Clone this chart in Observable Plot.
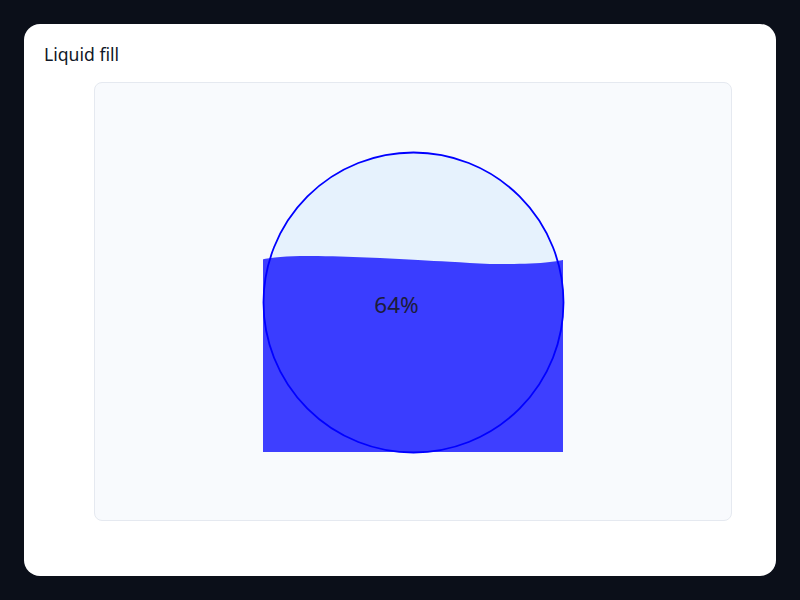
<!DOCTYPE html>
<html>
<head>
<meta charset="utf-8">
<script src="https://cdn.jsdelivr.net/npm/d3@7"></script>
<script src="https://cdn.jsdelivr.net/npm/@observablehq/plot@0.6"></script>
<style>
  html, body { margin: 0; padding: 0; width: 800px; height: 600px; background: #0b0f19; overflow: hidden; }
  #card { position: absolute; left: 24px; top: 24px; width: 752px; height: 552px; background: #ffffff; border-radius: 16px; }
  #title { position: absolute; left: 44px; top: 42px; font-family: "Noto Sans", sans-serif; font-size: 17.6px; color: #111827; line-height: 24px; }
  #panel { position: absolute; left: 94px; top: 82px; width: 638px; height: 439px; box-sizing: border-box; background: #f8fafd; border: 1px solid #e5e9f0; border-radius: 8px; }
  #chart { position: absolute; left: 94px; top: 82px; width: 638px; height: 439px; }
</style>
</head>
<body>
<div id="card"></div>
<div id="title">Liquid fill</div>
<div id="panel"></div>
<div id="chart"></div>
<script>
// fill level (fraction of the circle height)
const level = 0.64;
// wave surface: horizontal position (-1..1 across the circle) and fill fraction
const waveX = [-1, -0.92, -0.753, -0.487, -0.22, 0.033, 0.247, 0.513, 0.78, 0.913, 1];
const waveFrac = [0.642, 0.648, 0.653, 0.652, 0.647, 0.640, 0.634, 0.627, 0.628, 0.633, 0.640];

const wave = waveX.map((x, i) => ({x, y: -1 + 2 * waveFrac[i], base: -1}));

const chart = Plot.plot({
  width: 638,
  height: 439,
  x: {domain: [-1, 1], range: [169, 469], axis: null},
  y: {domain: [-1, 1], range: [370, 70], axis: null},
  style: {background: "transparent", fontFamily: "Noto Sans, sans-serif", overflow: "visible"},
  marks: [
    Plot.dot([0], {x: () => 0, y: () => 0, r: 150, fill: "#e6f2fd", stroke: "none"}),
    Plot.areaY(wave, {x: "x", y1: "base", y2: "y", fill: "#0000ff", fillOpacity: 0.75, curve: "catmull-rom"}),
    Plot.dot([0], {x: () => 0, y: () => 0, r: 150, fill: "none", stroke: "#0000ff", strokeWidth: 1.8}),
    Plot.text([level], {x: () => 0, y: () => 0, text: d => Math.round(d * 100) + "%", dx: -17, dy: 3, fontSize: 22.5, fill: "#1c1c3a"})
  ]
});
document.getElementById("chart").appendChild(chart);
</script>
</body>
</html>
